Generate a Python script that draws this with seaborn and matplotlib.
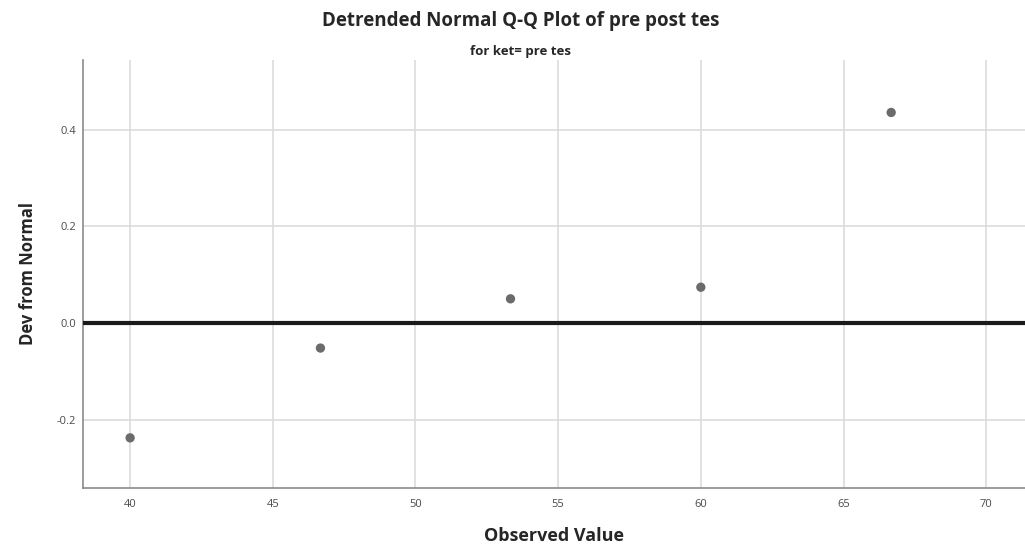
"""Detrended Normal Q-Q plot (pre tes) redrawn with seaborn."""

import matplotlib

matplotlib.use("Agg")
import matplotlib.pyplot as plt
import pandas as pd
import seaborn as sns

# data
observed = [40.0, 46.67, 53.33, 60.0, 66.67]
dev_from_normal = [-0.238, -0.052, 0.050, 0.074, 0.436]
x_ticks = [40, 45, 50, 55, 60, 65, 70]
y_ticks = [-0.2, 0.0, 0.2, 0.4]

df = pd.DataFrame({"Observed Value": observed, "Dev from Normal": dev_from_normal})

sns.set_theme(style="white")
plt.rcParams["font.family"] = ["Open Sans", "DejaVu Sans"]

fig = plt.figure(figsize=(10.25, 5.49), dpi=100)
ax = fig.add_axes([0.081, 0.111, 0.919, 0.78])

sns.scatterplot(
    data=df,
    x="Observed Value",
    y="Dev from Normal",
    color="#6b6b6b",
    s=45,
    edgecolor="none",
    ax=ax,
    zorder=4,
)

# reference line at zero deviation
ax.axhline(0, color="#1a1a1a", linewidth=3, zorder=3)

ax.set_xlim(38.35, 71.36)
ax.set_ylim(-0.342, 0.545)
ax.set_xticks(x_ticks)
ax.set_yticks(y_ticks)
ax.set_yticklabels([f"{v:.1f}" for v in y_ticks])

ax.grid(True, color="#dcdcdc", linewidth=1.2, zorder=0)
ax.set_axisbelow(True)
sns.despine(ax=ax)
for side in ("left", "bottom"):
    ax.spines[side].set_color("#8a8a8a")
    ax.spines[side].set_linewidth(1.2)

ax.tick_params(axis="both", labelsize=8, colors="#4a4a4a", length=0)
ax.tick_params(axis="x", pad=8)
ax.tick_params(axis="y", pad=5)
ax.set_xlabel("Observed Value", fontsize=13, fontweight="bold", labelpad=12)
ax.set_ylabel("Dev from Normal", fontsize=12, fontweight="bold", labelpad=14)

fig.text(0.508, 0.961, "Detrended Normal Q-Q Plot of pre post tes",
         ha="center", va="center", fontsize=13.5, fontweight="bold")
fig.text(0.508, 0.906, "for ket= pre tes",
         ha="center", va="center", fontsize=9.5, fontweight="bold")

fig.savefig("out.png", dpi=100)
plt.close(fig)
